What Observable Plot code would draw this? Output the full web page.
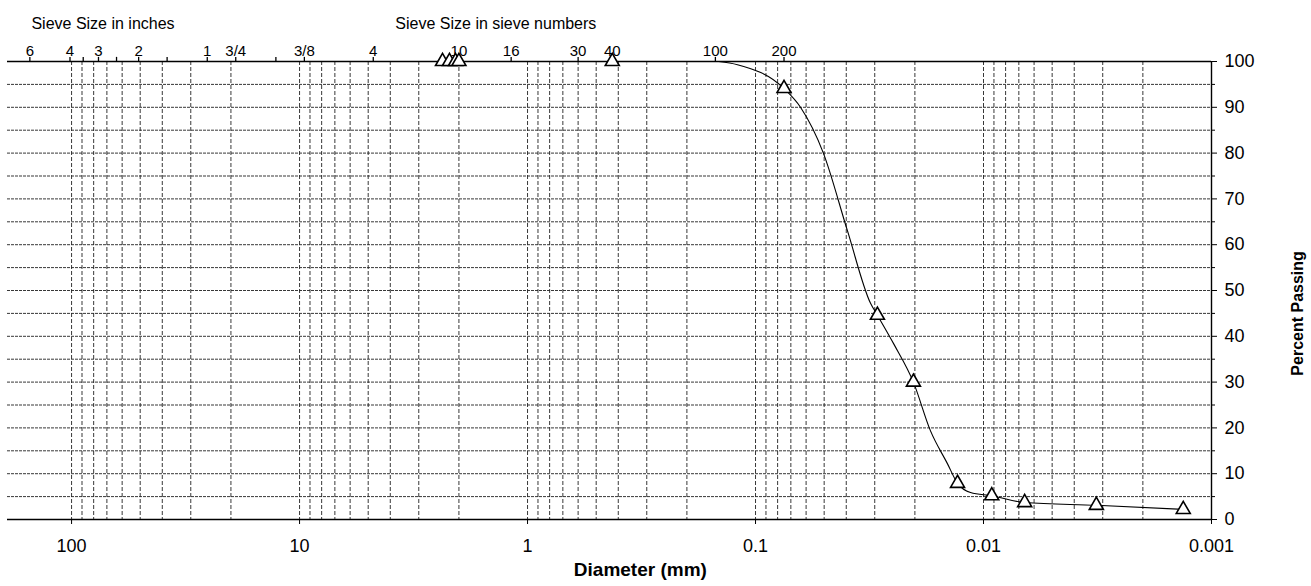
<!DOCTYPE html>
<html><head><meta charset="utf-8">
<script src="https://cdn.jsdelivr.net/npm/d3@7"></script>
<script src="https://cdn.jsdelivr.net/npm/@observablehq/plot@0.6"></script>
<style>body{margin:0;background:#fff} svg{display:block}</style>
</head><body><div id="chart"></div>
<script>
// Test results (markers)
const testDiameter = [2.36, 2.2, 2.07, 2.0, 0.425, 0.075, 0.0292, 0.0203, 0.0130, 0.0092, 0.0066, 0.0032, 0.00133];
const testPassing  = [100, 100, 100, 100, 100, 94.1, 44.6, 30.0, 7.9, 5.2, 3.7, 3.1, 2.2];
// Fitted gradation curve
const curveDiameter = [0.145, 0.12, 0.075, 0.0635, 0.0504, 0.0395, 0.0313, 0.0292, 0.0248, 0.0203, 0.0171, 0.0144, 0.0130, 0.0114, 0.0092, 0.0066, 0.0032, 0.00133];
const curvePassing  = [100, 99.3, 94.1, 90.0, 80.0, 63.0, 47.2, 44.6, 38.4, 30.0, 19.4, 12.2, 7.9, 5.9, 5.2, 3.7, 3.1, 2.2];
// Top axis: sieve openings (mm) and their labels
const sieveDiameter = [152.4, 101.6, 88.9, 76.2, 63.5, 50.8, 38.1, 25.4, 19.05, 12.7, 9.525, 4.75, 2.0, 1.18, 0.6, 0.425, 0.15, 0.075];
const sieveLabel    = ["6", "4", "", "3", "", "2", "", "1", "3/4", "", "3/8", "4", "10", "16", "30", "40", "100", "200"];
// Bottom axis ticks
const diameterTicks = [100, 10, 1, 0.1, 0.01, 0.001];
const diameterTickLabels = ["100", "10", "1", "0.1", "0.01", "0.001"];
// Right axis
const percentTicks = [0, 10, 20, 30, 40, 50, 60, 70, 80, 90, 100];
const percentMinor = [5, 15, 25, 35, 45, 55, 65, 75, 85, 95];
const percentGrid = [5, 10, 15, 20, 25, 30, 35, 40, 45, 50, 55, 60, 65, 70, 75, 80, 85, 90, 95];
// Texts
const topTitles = ["Sieve Size in inches", "Sieve Size in sieve numbers"];
const topTitleAt = [150, 3.8];
const xTitle = "Diameter (mm)";
const xTitleAt = 0.32;
const yTitle = "Percent Passing";
const yTitleAt = 45;

const tests = testDiameter.map((d, i) => ({d, p: testPassing[i]}));
const curve = curveDiameter.map((d, i) => ({d, p: curvePassing[i]}));
const sieves = sieveDiameter.map((d, i) => ({d, label: sieveLabel[i]}));
const tickMap = new Map(diameterTicks.map((d, i) => [d, diameterTickLabels[i]]));

const chart = Plot.plot({
  width: 1311, height: 586,
  marginLeft: 7, marginRight: 100, marginTop: 61, marginBottom: 67,
  x: {type: "log", domain: [191, 0.001]},
  y: {domain: [0, 100]},
  style: {fontFamily: "'Liberation Sans', Arial, sans-serif", background: "#fff", color: "#000"},
  marks: [
    Plot.gridX({ticks: 60, stroke: "#222", strokeOpacity: 0.9, strokeDasharray: "4,2"}),
    Plot.gridY(percentGrid, {stroke: "#222", strokeOpacity: 0.9, strokeDasharray: "3,1"}),
    Plot.ruleY([0, 100], {stroke: "#000", strokeWidth: 1.6}),
    Plot.ruleX([0.001], {stroke: "#000", strokeWidth: 1.4}),
    // top sieve axis
    Plot.ruleX(sieves, {x: "d", y1: 100, y2: 100.9, stroke: "#000", strokeWidth: 1.3}),
    Plot.text(sieves, {x: "d", text: "label", frameAnchor: "top", dy: -16, fontSize: 15}),
    Plot.axisX(diameterTicks, {anchor: "bottom", tickSize: 5, tickPadding: 15, fontSize: 18,
      tickFormat: d => tickMap.get(d), label: null}),
    Plot.axisY(percentTicks, {anchor: "right", tickSize: 5, tickPadding: 8, fontSize: 18, label: null}),
    Plot.axisY(percentMinor, {anchor: "right", tickSize: 3, tickFormat: () => "", label: null}),
    Plot.text(topTitles, {x: (d, i) => topTitleAt[i], frameAnchor: "top", dy: -44,
      textAnchor: "start", fontSize: 16}),
    Plot.text([xTitle], {x: xTitleAt, frameAnchor: "bottom", dy: 56, fontSize: 19, fontWeight: "bold"}),
    Plot.text([yTitle], {y: yTitleAt, frameAnchor: "right", dx: 86, rotate: -90, textAnchor: "middle",
      fontSize: 16, fontWeight: "bold"}),
    Plot.line(curve, {x: "d", y: "p", curve: "monotone-x", stroke: "#000", strokeWidth: 1.1}),
    Plot.dot(tests, {x: "d", y: "p", symbol: "triangle", r: 5.2, stroke: "#000", fill: "#fff", strokeWidth: 1.6})
  ]
});
document.getElementById("chart").appendChild(chart);
</script>
</body></html>
